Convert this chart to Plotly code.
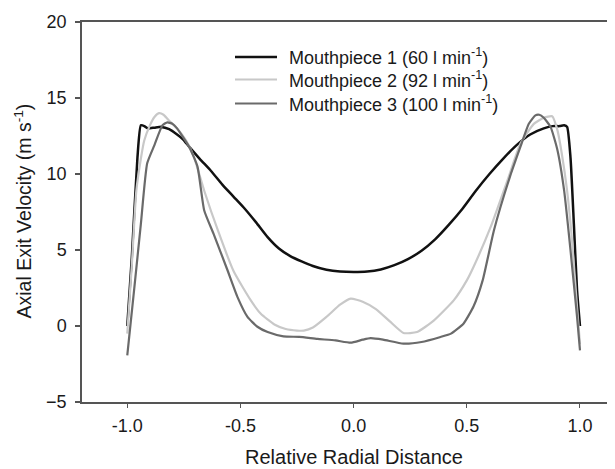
import plotly.graph_objects as go

# Mouthpiece 1 (60 l/min)
x1 = [-1.0, -0.98, -0.955, -0.94, -0.925, -0.91, -0.88, -0.85, -0.815, -0.78, -0.755, -0.727,
      -0.68, -0.63, -0.58, -0.53, -0.48, -0.43, -0.38, -0.33, -0.28, -0.23, -0.18, -0.12, -0.06,
      0.0, 0.06, 0.12, 0.18, 0.24, 0.3, 0.36, 0.42, 0.48, 0.54, 0.6, 0.66, 0.72, 0.78, 0.84,
      0.88, 0.91, 0.93, 0.943, 0.958, 0.973, 0.987, 1.0]
y1 = [0.0, 4.5, 11.1, 13.2, 13.15, 13.0, 13.05, 13.1, 12.95, 12.6, 12.3, 11.8,
      11.0, 10.2, 9.3, 8.5, 7.7, 6.8, 5.85, 5.1, 4.6, 4.25, 3.95, 3.7, 3.58,
      3.55, 3.58, 3.72, 4.0, 4.4, 4.95, 5.7, 6.65, 7.7, 8.9, 10.0, 11.0, 11.9, 12.6, 13.0,
      13.15, 13.15, 13.2, 13.1, 11.1, 6.7, 2.35, 0.0]

# Mouthpiece 2 (92 l/min)
x2 = [-1.0, -0.98, -0.96, -0.94, -0.925, -0.9, -0.88, -0.86, -0.84, -0.815, -0.78, -0.74,
      -0.705, -0.66, -0.6, -0.53, -0.455, -0.41, -0.35, -0.3, -0.25, -0.22, -0.18, -0.12,
      -0.06, -0.013, 0.04, 0.1, 0.16, 0.22, 0.28, 0.355, 0.443, 0.5, 0.53, 0.605, 0.68,
      0.737, 0.796, 0.84, 0.877, 0.9, 0.92, 0.943, 0.965, 0.987, 1.0]
y2 = [-0.5, 4.0, 8.9, 11.0, 12.2, 13.2, 13.75, 14.0, 13.9, 13.5, 13.0, 12.2,
      11.1, 8.9, 6.3, 3.6, 1.7, 0.8, 0.1, -0.2, -0.3, -0.3, -0.1, 0.6,
      1.4, 1.8, 1.6, 1.1, 0.3, -0.46, -0.4, 0.37, 1.7, 3.0, 3.9, 6.5, 9.6,
      12.0, 13.3, 13.7, 13.8, 12.9, 11.3, 8.9, 5.6, 1.25, -1.2]

# Mouthpiece 3 (100 l/min)
x3 = [-1.0, -0.97, -0.94, -0.912, -0.88, -0.845, -0.823, -0.8, -0.78, -0.727, -0.69, -0.66,
      -0.617, -0.558, -0.513, -0.469, -0.425, -0.38, -0.31, -0.24, -0.16, -0.08, -0.013,
      0.04, 0.075, 0.13, 0.22, 0.3, 0.384, 0.43, 0.486, 0.53, 0.57, 0.62, 0.69, 0.737,
      0.774, 0.803, 0.82, 0.84, 0.87, 0.9, 0.93, 0.958, 0.987, 1.0]
y3 = [-1.93, 2.35, 6.7, 10.7, 11.9, 13.2, 13.4, 13.3, 13.0, 11.8, 10.5, 7.6,
      6.0, 3.7, 1.9, 0.6, -0.05, -0.4, -0.68, -0.72, -0.85, -0.95, -1.1,
      -0.9, -0.8, -0.9, -1.16, -1.05, -0.72, -0.5, 0.17, 1.3, 3.0, 6.3, 9.8, 11.8,
      13.3, 13.86, 13.9, 13.7, 13.1, 11.6, 8.9, 5.0, 0.6, -1.6]

names = ["Mouthpiece 1 (60 l min<sup>-1</sup>)",
         "Mouthpiece 2 (92 l min<sup>-1</sup>)",
         "Mouthpiece 3 (100 l min<sup>-1</sup>)"]
colors = ["#111111", "#c8c8c8", "#6a6a6a"]
widths = [2.5, 2.2, 2.2]

x_ticks = [-1.0, -0.5, 0.0, 0.5, 1.0]
x_tick_labels = ["-1.0", "-0.5", "0.0", "0.5", "1.0"]
y_ticks = [-5, 0, 5, 10, 15, 20]

FONT = "Liberation Sans, Arial, sans-serif"
TXT = "#1a1a1a"

W, H = 615, 469
ML, MR, MT, MB = 74, 0, 14, 75
PW, PH = W - ML - MR, H - MT - MB


def px_x(fx):
    return (fx - ML) / PW


def px_y(fy):
    return (H - MB - fy) / PH


fig = go.Figure()
for xs, ys, nm, c, w in zip([x1, x2, x3], [y1, y2, y3], names, colors, widths):
    fig.add_trace(go.Scatter(x=xs, y=ys, mode="lines", name=nm, showlegend=False,
                             line=dict(color=c, width=w, shape="spline", smoothing=0.5)))

# manual legend
leg_rows = [49, 71.5, 95.5]
for nm, c, w, ry in zip(names, colors, widths, leg_rows):
    fig.add_shape(type="line", xref="paper", yref="paper",
                  x0=px_x(227), x1=px_x(269), y0=px_y(ry), y1=px_y(ry),
                  line=dict(color=c, width=w))
    fig.add_annotation(text=nm, xref="paper", yref="paper", x=px_x(279), y=px_y(ry),
                       xanchor="left", yanchor="middle", showarrow=False,
                       font=dict(size=18, family=FONT, color=TXT))

fig.update_layout(
    width=W, height=H,
    margin=dict(l=ML, r=MR, t=MT, b=MB),
    paper_bgcolor="white", plot_bgcolor="white",
    font=dict(family=FONT, size=18, color=TXT),
    showlegend=False,
    xaxis=dict(range=[-1.2, 1.19], tickvals=x_ticks, ticktext=x_tick_labels,
               showgrid=False, zeroline=False, showline=True, linecolor="#555555",
               linewidth=1.5, mirror=True, ticks="outside", ticklen=4, tickwidth=1.2,
               tickcolor="#555555", ticklabelstandoff=3),
    yaxis=dict(range=[-5, 20], tickvals=y_ticks, showgrid=False, zeroline=False,
               showline=True, linecolor="#555555", linewidth=1.5, ticks="outside",
               ticklen=5, tickwidth=1.5, tickcolor="#555555", ticklabelstandoff=5),
)
fig.add_annotation(text="Relative Radial Distance", xref="x", yref="paper",
                   x=0.0, y=0, yshift=-55, showarrow=False, yanchor="middle",
                   font=dict(size=20, family=FONT, color=TXT))
fig.add_annotation(text="Axial Exit Velocity (m s<sup>-1</sup>)", xref="paper", yref="paper",
                   x=px_x(14), y=px_y(203.5), textangle=-90, showarrow=False,
                   xanchor="center", yanchor="middle",
                   font=dict(size=19.5, family=FONT, color=TXT))

fig.write_html("out.html")
